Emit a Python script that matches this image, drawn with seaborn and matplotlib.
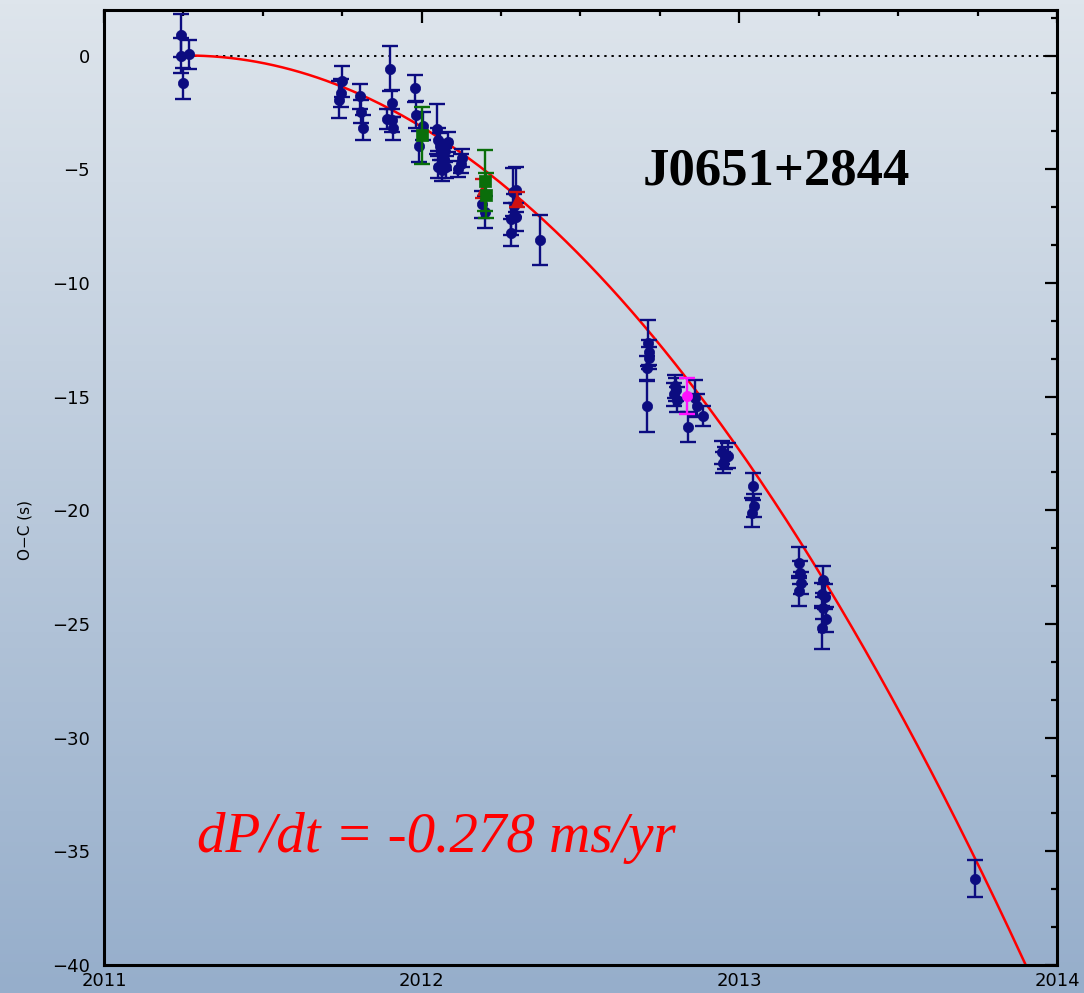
import numpy as np
import pandas as pd
import matplotlib
matplotlib.use("Agg")
import matplotlib.pyplot as plt
from matplotlib.ticker import MultipleLocator
import seaborn as sns

# ---- eclipse timing residuals (O-C, seconds) ----
blue_t = [2011.242, 2011.242, 2011.249, 2011.268,
          2011.740, 2011.746, 2011.749,
          2011.806, 2011.809, 2011.815,
          2011.900, 2011.891, 2011.907, 2011.910, 2011.907,
          2011.979, 2011.982, 2012.004, 2011.991,
          2012.048, 2012.051, 2012.058, 2012.064, 2012.070, 2012.051, 2012.076,
          2012.073, 2012.083, 2012.064,
          2012.127, 2012.114, 2012.124,
          2012.190, 2012.200,
          2012.287, 2012.297, 2012.281, 2012.297, 2012.281, 2012.291,
          2012.372,
          2012.712, 2012.715, 2012.715, 2012.709, 2012.709,
          2012.797, 2012.794, 2012.803, 2012.800,
          2012.838, 2012.860, 2012.867, 2012.885,
          2012.945, 2012.964, 2012.949, 2012.955,
          2013.043, 2013.046, 2013.040,
          2013.188, 2013.191, 2013.194, 2013.188,
          2013.263, 2013.260, 2013.269, 2013.263, 2013.274, 2013.260,
          2013.742]
blue_oc = [0.88, 0.00, -1.23, 0.05,
           -1.94, -1.65, -1.14,
           -1.80, -2.47, -3.17,
           -0.58, -2.80, -2.10, -3.20, -2.85,
           -1.45, -2.60, -3.10, -4.00,
           -3.25, -3.70, -4.00, -4.30, -4.55, -4.90, -4.90,
           -4.20, -3.80, -5.05,
           -4.50, -5.00, -4.75,
           -6.55, -6.90,
           -6.00, -5.90, -7.20, -7.10, -7.80, -6.60,
           -8.10,
           -12.65, -13.05, -13.30, -13.75, -15.40,
           -14.55, -14.90, -15.15, -14.70,
           -16.33, -15.05, -15.40, -15.85,
           -17.45, -17.60, -17.90, -17.70,
           -18.95, -19.80, -20.10,
           -22.30, -22.75, -23.20, -23.55,
           -23.05, -23.70, -23.80, -24.30, -24.80, -25.20,
           -36.20]
blue_err = [0.95, 0.75, 0.70, 0.65,
            0.80, 0.60, 0.70,
            0.55, 0.50, 0.55,
            1.00, 0.45, 0.60, 0.50, 0.50,
            0.60, 0.60, 0.60, 0.70,
            1.10, 0.50, 0.60, 0.50, 0.50, 0.50, 0.50,
            0.50, 0.45, 0.45,
            0.40, 0.35, 0.40,
            0.60, 0.70,
            1.05, 1.00, 0.70, 0.60, 0.60, 0.50,
            1.10,
            1.00, 0.55, 0.50, 0.55, 1.15,
            0.50, 0.50, 0.55, 0.50,
            0.65, 0.80, 0.50, 0.45,
            0.50, 0.55, 0.45, 0.50,
            0.60, 0.50, 0.65,
            0.70, 0.50, 0.50, 0.65,
            0.60, 0.50, 0.55, 0.50, 0.55, 0.90,
            0.80]

green_t = [2012.001, 2012.200, 2012.203]
green_oc = [-3.50, -5.50, -6.15]
green_err = [1.25, 1.35, 1.00]

red_t = [2012.193, 2012.300]
red_oc = [-5.85, -6.35]
red_err = [0.40, 0.33]

magenta_t = [2012.835]
magenta_oc = [-14.97]
magenta_err = [0.80]

# ---- orbital decay model ----
P_orb = 765.2           # orbital period, s
dPdt_ms_per_yr = -0.278 # period derivative, ms/yr
t_ref = 2011.26         # reference epoch (yr)

x_ticks = [2011, 2012, 2013, 2014]
y_ticks = [0, -5, -10, -15, -20, -25, -30, -35, -40]

sns.set_theme(style="white")
plt.rcParams["font.family"] = ["DejaVu Sans"]

fig = plt.figure(figsize=(10.84, 9.93), dpi=100)

# vertical background gradient behind everything
bg = fig.add_axes([0, 0, 1, 1], zorder=-10)
top_c = np.array([222, 229, 236]) / 255.0
bot_c = np.array([150, 174, 203]) / 255.0
frac = np.linspace(0, 1, 256)[:, None]
grad = top_c[None, :] * (1 - frac) + bot_c[None, :] * frac
bg.imshow(grad[:, None, :], aspect="auto", extent=[0, 1, 0, 1])
bg.set_axis_off()

ax = fig.add_axes([0.0959, 0.0282, 0.9791 - 0.0959 - 0.0040, 0.9899 - 0.0282])
ax.patch.set_alpha(0)

# fitted quadratic O-C curve implied by dP/dt
yr = 365.25 * 86400.0
pdot = dPdt_ms_per_yr * 1e-3 / yr
coef = 0.5 * pdot / P_orb * yr ** 2
fit_t = np.linspace(t_ref, 2014.0, 400)
fit = pd.DataFrame({"t": fit_t, "oc": coef * (fit_t - t_ref) ** 2})
ax.plot([t_ref, 2014.0], [0, 0], ls=(0, (1.2, 2.5)), color="black", lw=1.4, zorder=1)
sns.lineplot(data=fit, x="t", y="oc", color="red", lw=1.8, ax=ax,
             sort=False, estimator=None, zorder=2)

navy = "#0c0c80"
green = "#0a6e0a"
red = "#d01010"
magenta = "#ff10ff"

series = [
    ("blue", blue_t, blue_oc, blue_err, navy, "o", 55),
    ("red", red_t, red_oc, red_err, red, "^", 75),
    ("green", green_t, green_oc, green_err, green, "s", 70),
    ("magenta", magenta_t, magenta_oc, magenta_err, magenta, "o", 55),
]
for i, (name, t, oc, err, col, mk, sz) in enumerate(series):
    z = 3 + 2 * i
    ax.errorbar(t, oc, yerr=err, fmt="none", ecolor=col, elinewidth=1.7,
                capsize=5.5, capthick=1.7, zorder=z)
    df = pd.DataFrame({"t": t, "oc": oc})
    sns.scatterplot(data=df, x="t", y="oc", color=col, marker=mk, s=sz,
                    edgecolor=col, linewidth=0.5, ax=ax, zorder=z + 1, legend=False)

ax.set_xlim(2011, 2014)
ax.set_ylim(-40, 2)
ax.set_xticks(x_ticks)
ax.set_yticks(y_ticks)
ax.set_xticklabels([str(v) for v in x_ticks])
ax.set_yticklabels([f"{v}".replace("-", "\u2212") for v in y_ticks])
ax.xaxis.set_minor_locator(MultipleLocator(0.25))
ax.yaxis.set_minor_locator(MultipleLocator(5 / 3))
ax.tick_params(which="both", direction="in", top=True, right=True,
               width=1.6, color="black", labelsize=13, labelcolor="black")
ax.tick_params(which="major", length=9)
ax.tick_params(which="minor", length=4.5)
ax.tick_params(axis="x", pad=5)
ax.tick_params(axis="y", pad=10)
for sp in ax.spines.values():
    sp.set_visible(True)
    sp.set_color("black")
    sp.set_linewidth(2.2)

ax.set_xlabel("")
ax.set_ylabel("O\u2212C (s)", fontsize=11, labelpad=18, color="black")
ax.yaxis.set_label_coords(-0.075, 0.455)

ax.text(2012.697, -5.68, "J0651+2844", fontsize=38, fontweight="bold",
        family="Liberation Serif", color="black", ha="left", va="baseline")
ax.text(2011.293, -35.05, "dP/dt = -0.278 ms/yr", fontsize=41, style="italic",
        family="Liberation Serif", color="red", ha="left", va="baseline")

fig.savefig("out.png", dpi=100)
